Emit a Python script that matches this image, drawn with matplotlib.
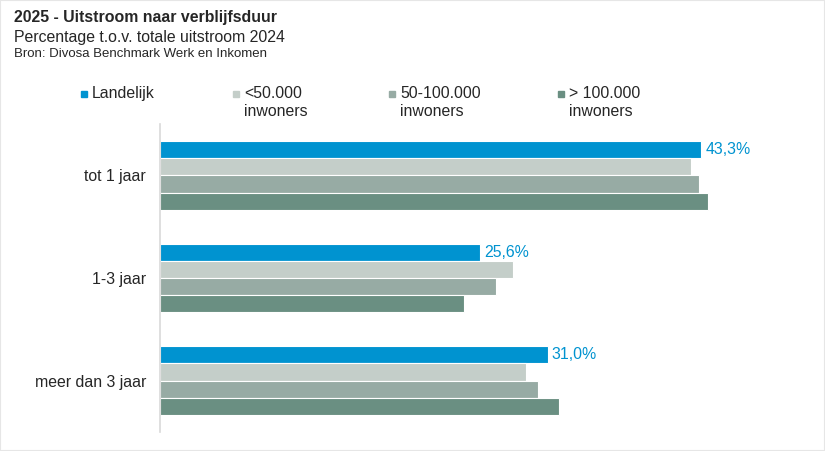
import numpy as np
import matplotlib.pyplot as plt
from matplotlib.patches import Rectangle

plt.rcParams['font.family'] = ['Liberation Sans', 'DejaVu Sans']

# data
categories = ['tot 1 jaar', '1-3 jaar', 'meer dan 3 jaar']
series = ['Landelijk', '<50.000\ninwoners', '50-100.000\ninwoners', '> 100.000\ninwoners']
landelijk = [43.3, 25.6, 31.0]
klein = [42.5, 28.2, 29.3]
middel = [43.1, 26.9, 30.2]
groot = [43.8, 24.3, 31.9]
labels_landelijk = ['43,3%', '25,6%', '31,0%']

colors = ['#0093D0', '#C4CEC9', '#97ABA4', '#6A8F82']
text_col = '#262626'

W, H = 825, 451
fig = plt.figure(figsize=(W / 100, H / 100), dpi=100)

# axes in pixel terms
left, right, top, bottom = 160, 785, 124, 432
ax = fig.add_axes([left / W, 1 - bottom / H, (right - left) / W, (bottom - top) / H])

y = np.arange(len(categories))
bh = 0.168
vals = [landelijk, klein, middel, groot]
for i, v in enumerate(vals):
    ax.barh(y + (i - 1.5) * bh, v, height=bh, color=colors[i],
            edgecolor='white', linewidth=0.8)

# value labels on the Landelijk bars
for yi, v, lab in zip(y, landelijk, labels_landelijk):
    ax.text(v + 0.35, yi - 1.5 * bh, lab, color=colors[0], fontsize=11.4,
            va='center', ha='left')

ax.set_xlim(0, 50)
ax.set_ylim(2.5, -0.5)
ax.set_yticks(y)
ax.set_yticklabels(categories, fontsize=11.4, color=text_col)
ax.tick_params(axis='y', length=0, pad=10)
ax.set_xticks([])
for s in ['top', 'right', 'bottom']:
    ax.spines[s].set_visible(False)
ax.spines['left'].set_color('#D9D9D9')
ax.spines['left'].set_linewidth(1.2)

# titles
fig.text(14 / W, 1 - 17.5 / H, '2025 - Uitstroom naar verblijfsduur', fontsize=11.4,
         fontweight='bold', color=text_col, va='center', ha='left')
fig.text(14 / W, 1 - 37.5 / H, 'Percentage t.o.v. totale uitstroom 2024', fontsize=11.4,
         color=text_col, va='center', ha='left')
fig.text(14 / W, 1 - 54 / H, 'Bron: Divosa Benchmark Werk en Inkomen', fontsize=9.5,
         color=text_col, va='center', ha='left')

# legend, drawn by hand so the marker sits on the first line
leg_x = [81, 233, 389, 558]
for xm, lab, c in zip(leg_x, series, colors):
    fig.add_artist(Rectangle((xm / W, 1 - 97 / H), 6 / W, 6 / H,
                             transform=fig.transFigure, color=c))
    fig.text((xm + 11) / W, 1 - 86 / H, lab, fontsize=11.4, color=text_col,
             va='top', ha='left', linespacing=1.25)

# light frame round the picture
fig.add_artist(Rectangle((0, 0), 1, 1, transform=fig.transFigure, fill=False,
                         edgecolor='#E6E6E6', linewidth=1.5))

fig.savefig('out.png', dpi=100)
